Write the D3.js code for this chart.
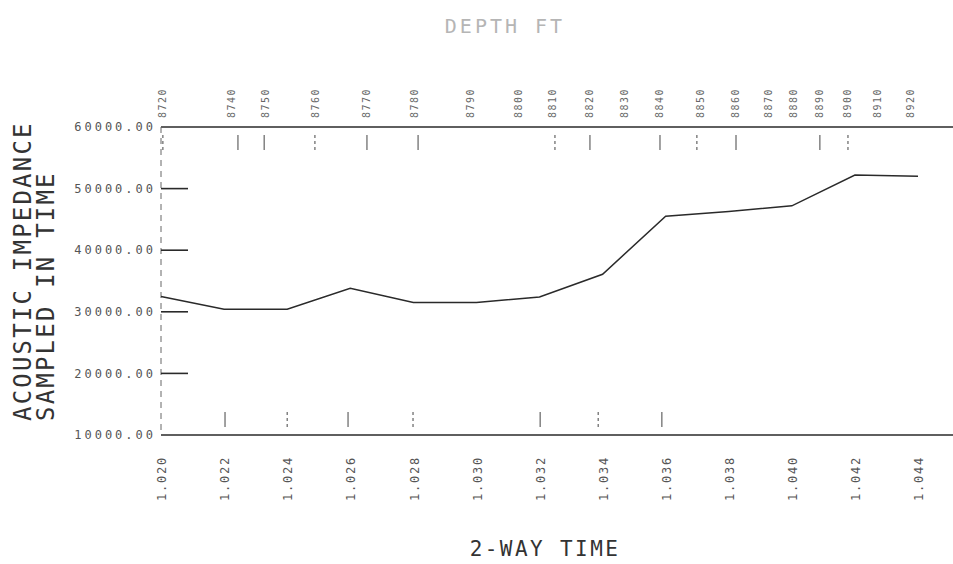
<!DOCTYPE html>
<html>
<head>
<meta charset="utf-8">
<script src="https://cdn.jsdelivr.net/npm/d3@7"></script>
<style>
  body { margin: 0; background: #fff; }
  svg { display: block; }
  text { font-family: "DejaVu Sans Mono", "Liberation Mono", monospace; }
</style>
</head>
<body>
<div id="chart"></div>
<script>
// two-way time samples and acoustic impedance
const times = [1.020, 1.022, 1.024, 1.026, 1.028, 1.030, 1.032, 1.034, 1.036, 1.038, 1.040, 1.042, 1.044];
const impedance = [32500, 30400, 30400, 33800, 31500, 31500, 32400, 36100, 45500, 46300, 47200, 52200, 52000];

const yTicks = [10000, 20000, 30000, 40000, 50000, 60000];

// depth labels along the top, placed at their two-way time
const depthTimes = [1.02006, 1.02222, 1.02330, 1.02491, 1.02653, 1.02805, 1.02980, 1.03132, 1.03240, 1.03360,
  1.03471, 1.03582, 1.03709, 1.03820, 1.03925, 1.04004, 1.04089, 1.04178, 1.04273, 1.04375];
const depthLabels = ["8720", "8740", "8750", "8760", "8770", "8780", "8790", "8800", "8810", "8820",
  "8830", "8840", "8850", "8860", "8870", "8880", "8890", "8900", "8910", "8920"];

// little marker ticks under the top line and over the bottom line
const topMarks = [1.02006, 1.02244, 1.02327, 1.02488, 1.02653, 1.02815, 1.03249, 1.03360, 1.03582, 1.03699, 1.03823, 1.04089, 1.04178];
const bottomMarks = [1.02203, 1.02400, 1.02593, 1.02799, 1.03202, 1.03386, 1.03588];

const width = 953, height = 564;
const margin = { top: 127, right: 0, bottom: 129, left: 161 };

const svg = d3.select("#chart").append("svg")
  .attr("width", width)
  .attr("height", height);

const x = d3.scaleLinear()
  .domain([1.020, 1.044])
  .range([162, 919]);

const y = d3.scaleLinear()
  .domain([10000, 60000])
  .range([height - margin.bottom, margin.top]);

const ink = "#2a2a2a";
const grey = "#555";

// title
svg.append("text")
  .attr("x", 505)
  .attr("y", 33)
  .attr("text-anchor", "middle")
  .attr("fill", "#b5b5b5")
  .style("font-size", "20px")
  .style("letter-spacing", "3px")
  .text("DEPTH   FT");

// top and bottom frame lines
svg.append("line")
  .attr("x1", margin.left).attr("x2", width)
  .attr("y1", y(60000)).attr("y2", y(60000))
  .attr("stroke", ink).attr("stroke-width", 1.6);

svg.append("line")
  .attr("x1", margin.left).attr("x2", width)
  .attr("y1", y(10000)).attr("y2", y(10000))
  .attr("stroke", ink).attr("stroke-width", 1.6);

// y axis line (dashed, like the plotter output)
svg.append("line")
  .attr("x1", margin.left).attr("x2", margin.left)
  .attr("y1", y(60000)).attr("y2", y(10000))
  .attr("stroke", "#666")
  .attr("stroke-dasharray", "6,5");

// y ticks
svg.append("g")
  .selectAll("line")
  .data(yTicks.filter((d) => d > 10000 && d < 60000))
  .join("line")
  .attr("x1", margin.left).attr("x2", margin.left + 27)
  .attr("y1", (d) => y(d)).attr("y2", (d) => y(d))
  .attr("stroke", ink).attr("stroke-width", 1.6);

svg.append("g")
  .selectAll("text")
  .data(yTicks)
  .join("text")
  .attr("x", 156)
  .attr("y", (d) => y(d))
  .attr("dy", "0.35em")
  .attr("text-anchor", "end")
  .attr("fill", grey)
  .style("font-size", "12px")
  .style("letter-spacing", "3px")
  .text((d) => d3.format(".2f")(d));

// y title, two rotated lines
const yTitle = ["ACOUSTIC IMPEDANCE", "SAMPLED IN TIME"];
svg.append("g")
  .selectAll("text")
  .data(yTitle)
  .join("text")
  .attr("transform", (d, i) => `translate(${31 + i * 23}, 421) rotate(-90)`)
  .attr("fill", "#333")
  .style("font-size", "24px")
  .style("letter-spacing", "2.2px")
  .text((d) => d);

// x tick labels, rotated
svg.append("g")
  .selectAll("text")
  .data(times)
  .join("text")
  .attr("transform", (d) => `translate(${x(d)}, 501) rotate(-90)`)
  .attr("dy", "0.35em")
  .attr("fill", grey)
  .style("font-size", "12px")
  .style("letter-spacing", "1.8px")
  .text((d) => d3.format(".3f")(d));

// x title
svg.append("text")
  .attr("x", 545)
  .attr("y", 556)
  .attr("text-anchor", "middle")
  .attr("fill", "#333")
  .style("font-size", "21px")
  .style("letter-spacing", "2.4px")
  .text("2-WAY TIME");

// depth labels along the top
svg.append("g")
  .selectAll("text")
  .data(depthTimes)
  .join("text")
  .attr("transform", (d) => `translate(${x(d) - 1}, 118) rotate(-90)`)
  .attr("dy", "0.35em")
  .attr("fill", "#666")
  .style("font-size", "10px")
  .style("letter-spacing", "1.5px")
  .text((d, i) => depthLabels[i]);

// marker ticks
svg.append("g")
  .selectAll("line")
  .data(topMarks)
  .join("line")
  .attr("x1", (d) => x(d) - 1).attr("x2", (d) => x(d) - 1)
  .attr("y1", 135).attr("y2", 150)
  .attr("stroke", "#444")
  .attr("stroke-dasharray", (d, i) => (i % 3 === 0 ? "3,3" : null));

svg.append("g")
  .selectAll("line")
  .data(bottomMarks)
  .join("line")
  .attr("x1", (d) => x(d) - 1).attr("x2", (d) => x(d) - 1)
  .attr("y1", 412).attr("y2", 427)
  .attr("stroke", "#444")
  .attr("stroke-dasharray", (d, i) => (i % 2 === 1 ? "3,3" : null));

// impedance curve
const line = d3.line()
  .x((d, i) => x(times[i]) - 1)
  .y((d) => y(d));

svg.append("path")
  .datum(impedance)
  .attr("d", line)
  .attr("fill", "none")
  .attr("stroke", ink)
  .attr("stroke-width", 1.5);
</script>
</body>
</html>
